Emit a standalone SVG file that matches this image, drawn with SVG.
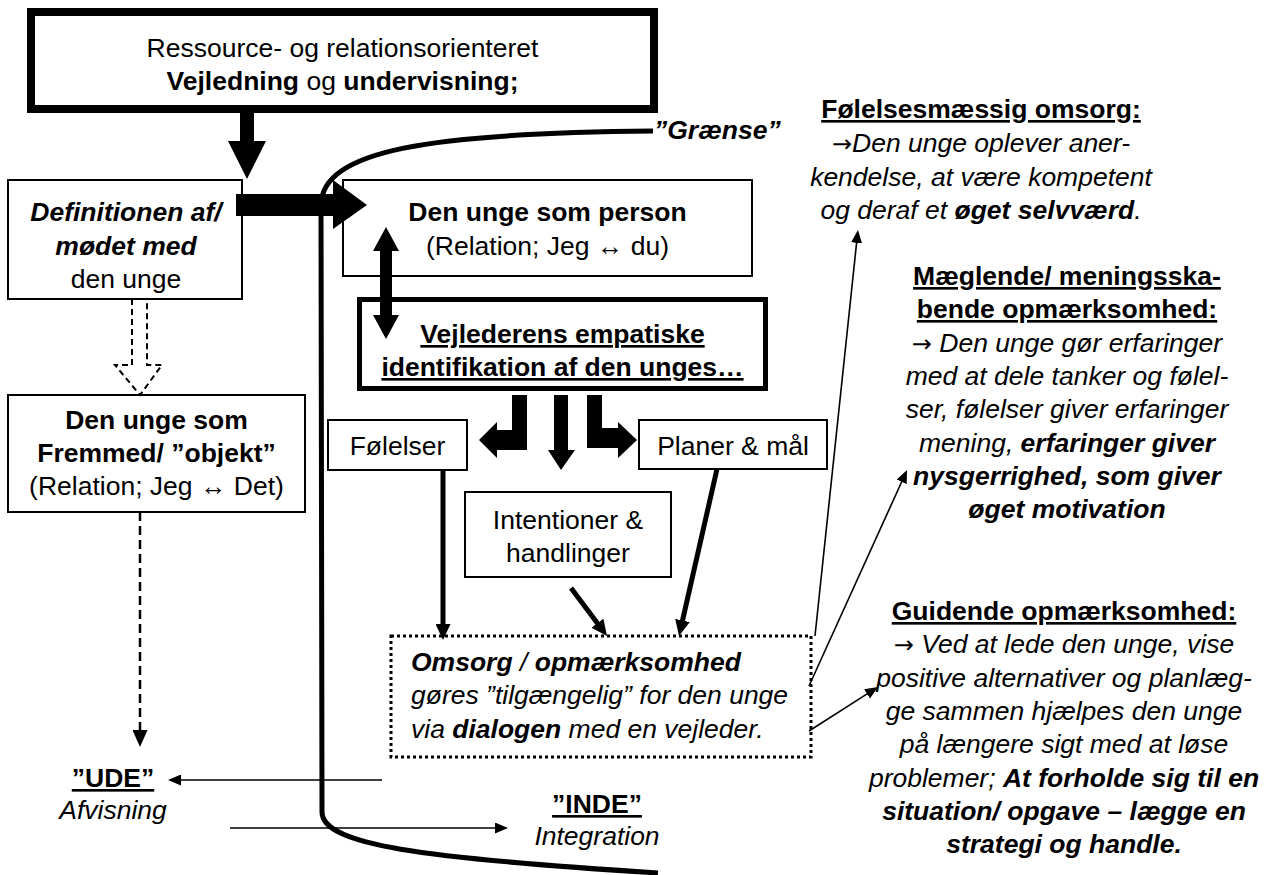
<svg xmlns="http://www.w3.org/2000/svg" width="1271" height="875" viewBox="0 0 1271 875">
<style>
text{font-family:"Liberation Sans",Arial,"DejaVu Sans",sans-serif;font-size:26.5px;fill:#000}
.m{text-anchor:middle}
.b{font-weight:bold}
.i{font-style:italic}
.u{text-decoration:underline}
.n{font-style:normal;font-family:"DejaVu Sans",sans-serif;font-size:24px}
.box{fill:#fff;stroke:#000;stroke-width:2}
.thin{stroke:#000;stroke-width:1.6;fill:none}
.thick{stroke:#000;stroke-width:5;fill:none}
.blk{fill:#000;stroke:none}
</style>
<defs>
<marker id="mThick" markerUnits="userSpaceOnUse" markerWidth="16" markerHeight="15" refX="2" refY="7.5" orient="auto"><path d="M0 0 L16 7.5 L0 15 z" fill="#000"/></marker>
<marker id="mThin" markerUnits="userSpaceOnUse" markerWidth="13" markerHeight="11" refX="2" refY="5.5" orient="auto"><path d="M0 0 L13 5.5 L0 11 z" fill="#000"/></marker>
<marker id="mDash" markerUnits="userSpaceOnUse" markerWidth="17" markerHeight="15" refX="2" refY="7.5" orient="auto"><path d="M0 0 L17 7.5 L0 15 z" fill="#000"/></marker>
</defs>

<g id="n-top">
<rect x="31" y="12" width="623" height="97" fill="#fff" stroke="#000" stroke-width="8"/>
<text class="m" x="342.5" y="57">Ressource- og relationsorienteret</text>
<text class="m" x="342.5" y="90"><tspan class="b">Vejledning</tspan> og <tspan class="b">undervisning;</tspan></text>
</g>

<g id="n-definition">
<rect class="box" x="8" y="180" width="234" height="119"/>
<text class="m b i" x="126" y="221">Definitionen af/</text>
<text class="m b i" x="126" y="255">mødet med</text>
<text class="m" x="126" y="288">den unge</text>
</g>

<g id="n-person">
<rect class="box" x="343" y="180" width="409" height="96"/>
<text class="m b" x="547.5" y="221">Den unge som person</text>
<text class="m" x="547.5" y="255">(Relation; Jeg ↔ du)</text>
</g>

<g id="n-fremmed">
<rect class="box" x="8" y="395" width="297" height="117"/>
<text class="m b" x="156.5" y="429">Den unge som</text>
<text class="m b" x="156.5" y="462">Fremmed/ ”objekt”</text>
<text class="m" x="156.5" y="495">(Relation; Jeg ↔ Det)</text>
</g>

<g id="n-vejleder">
<rect x="359.5" y="299.5" width="406" height="89" fill="#fff" stroke="#000" stroke-width="5"/>
<text class="m b u" x="562.5" y="343">Vejlederens empatiske</text>
<text class="m b u" x="562.5" y="376">identifikation af den unges…</text>
</g>

<g id="n-folelser">
<rect class="box" x="328" y="420" width="139" height="50"/>
<text class="m" x="397.5" y="455">Følelser</text>
</g>

<g id="n-planer">
<rect class="box" x="639" y="420" width="188" height="49"/>
<text class="m" x="733" y="455">Planer &amp; mål</text>
</g>

<g id="n-intentioner">
<rect class="box" x="465" y="492" width="206" height="85"/>
<text class="m" x="568" y="529">Intentioner &amp;</text>
<text class="m" x="568" y="562">handlinger</text>
</g>

<g id="n-omsorg">
<rect x="391" y="636" width="420" height="121" fill="#fff" stroke="#000" stroke-width="3" stroke-dasharray="3 3"/>
<text class="i" x="411" y="671"><tspan class="b">Omsorg</tspan> / <tspan class="b">opmærksomhed</tspan></text>
<text class="i" x="411" y="704">gøres ”tilgængelig” for den unge</text>
<text class="i" x="411" y="738">via <tspan class="b">dialogen</tspan> med en vejleder.</text>
</g>

<g id="n-ude">
<text class="m b u" x="113" y="787">”UDE”</text>
<text class="m i" x="113" y="819">Afvisning</text>
</g>

<g id="n-inde">
<text class="m b u" x="597" y="813">”INDE”</text>
<text class="m i" x="597" y="845">Integration</text>
</g>

<g id="n-folelsesmaessig">
<text class="m b u" x="981" y="118">Følelsesmæssig omsorg:</text>
<text class="m i" x="981" y="152"><tspan class="n">→</tspan>Den unge oplever aner-</text>
<text class="m i" x="981" y="186">kendelse, at være kompetent</text>
<text class="m i" x="981" y="219">og deraf et <tspan class="b">øget selvværd</tspan>.</text>
</g>

<g id="n-maeglende">
<text class="m b u" x="1067" y="285">Mæglende/ meningsska-</text>
<text class="m b u" x="1067" y="318">bende opmærksomhed:</text>
<text class="m i" x="1067" y="352"><tspan class="n">→</tspan> Den unge gør erfaringer</text>
<text class="m i" x="1067" y="385">med at dele tanker og følel-</text>
<text class="m i" x="1067" y="418">ser, følelser giver erfaringer</text>
<text class="m i" x="1067" y="452">mening, <tspan class="b">erfaringer giver</tspan></text>
<text class="m b i" x="1067" y="485">nysgerrighed, som giver</text>
<text class="m b i" x="1067" y="518">øget motivation</text>
</g>

<g id="n-guidende">
<text class="m b u" x="1064" y="620">Guidende opmærksomhed:</text>
<text class="m i" x="1064" y="653"><tspan class="n">→</tspan> Ved at lede den unge, vise</text>
<text class="m i" x="1064" y="687">positive alternativer og planlæg-</text>
<text class="m i" x="1064" y="720">ge sammen hjælpes den unge</text>
<text class="m i" x="1064" y="753">på længere sigt med at løse</text>
<text class="m i" x="1064" y="787">problemer; <tspan class="b">At forholde sig til en</tspan></text>
<text class="m b i" x="1064" y="820">situation/ opgave – lægge en</text>
<text class="m b i" x="1064" y="853">strategi og handle.</text>
</g>

<g id="graense">
<path class="thick" d="M653 131 C430 133 322 150 321 205 L322 812 C322 845 420 858 658 873"/>
<text class="b i" x="654" y="139">”Grænse”</text>
</g>

<g id="connectors">
<polygon class="blk" points="240,113 254,113 254,141 266,141 247,179 228,141 240,141"/>
<polygon class="blk" points="236,194 333,194 333,180 367,205 333,229 333,216 236,216"/>
<polygon class="blk" points="386,227 399,251 392,251 392,315 399,315 386,339 373,315 380,315 380,251 373,251"/>
<polygon class="blk" points="512,395 527,395 527,450 497,450 497,458 479,440 497,422 497,430 512,430"/>
<polygon class="blk" points="554,395 568,395 568,450 575,450 561,470 548,450 554,450"/>
<polygon class="blk" points="587,395 602,395 602,428 618,428 618,422 637,440 618,458 618,448 587,448"/>
<path d="M132 299 L132 365 L115 365 L140 395 L162 365 L147 365 L147 299" fill="none" stroke="#000" stroke-width="2" stroke-dasharray="6 4"/>
<line x1="140" y1="512" x2="140" y2="732" stroke="#000" stroke-width="2.5" stroke-dasharray="9 5" marker-end="url(#mDash)"/>
<line class="thick" x1="443" y1="471" x2="443" y2="626" marker-end="url(#mThick)"/>
<line class="thick" x1="571" y1="588" x2="598.6" y2="624.8" marker-end="url(#mThick)"/>
<line class="thick" x1="717" y1="469" x2="682.1" y2="622.4" marker-end="url(#mThick)"/>
<line class="thin" x1="815" y1="636" x2="856.8" y2="240.9" marker-end="url(#mThin)"/>
<line class="thin" x1="809" y1="686" x2="902.5" y2="480" marker-end="url(#mThin)"/>
<line class="thin" x1="809" y1="731" x2="868.7" y2="692.9" marker-end="url(#mThin)"/>
<line class="thin" x1="382" y1="780" x2="179" y2="780" marker-end="url(#mThin)"/>
<line class="thin" x1="230" y1="828" x2="497" y2="828" marker-end="url(#mThin)"/>
</g>
</svg>
